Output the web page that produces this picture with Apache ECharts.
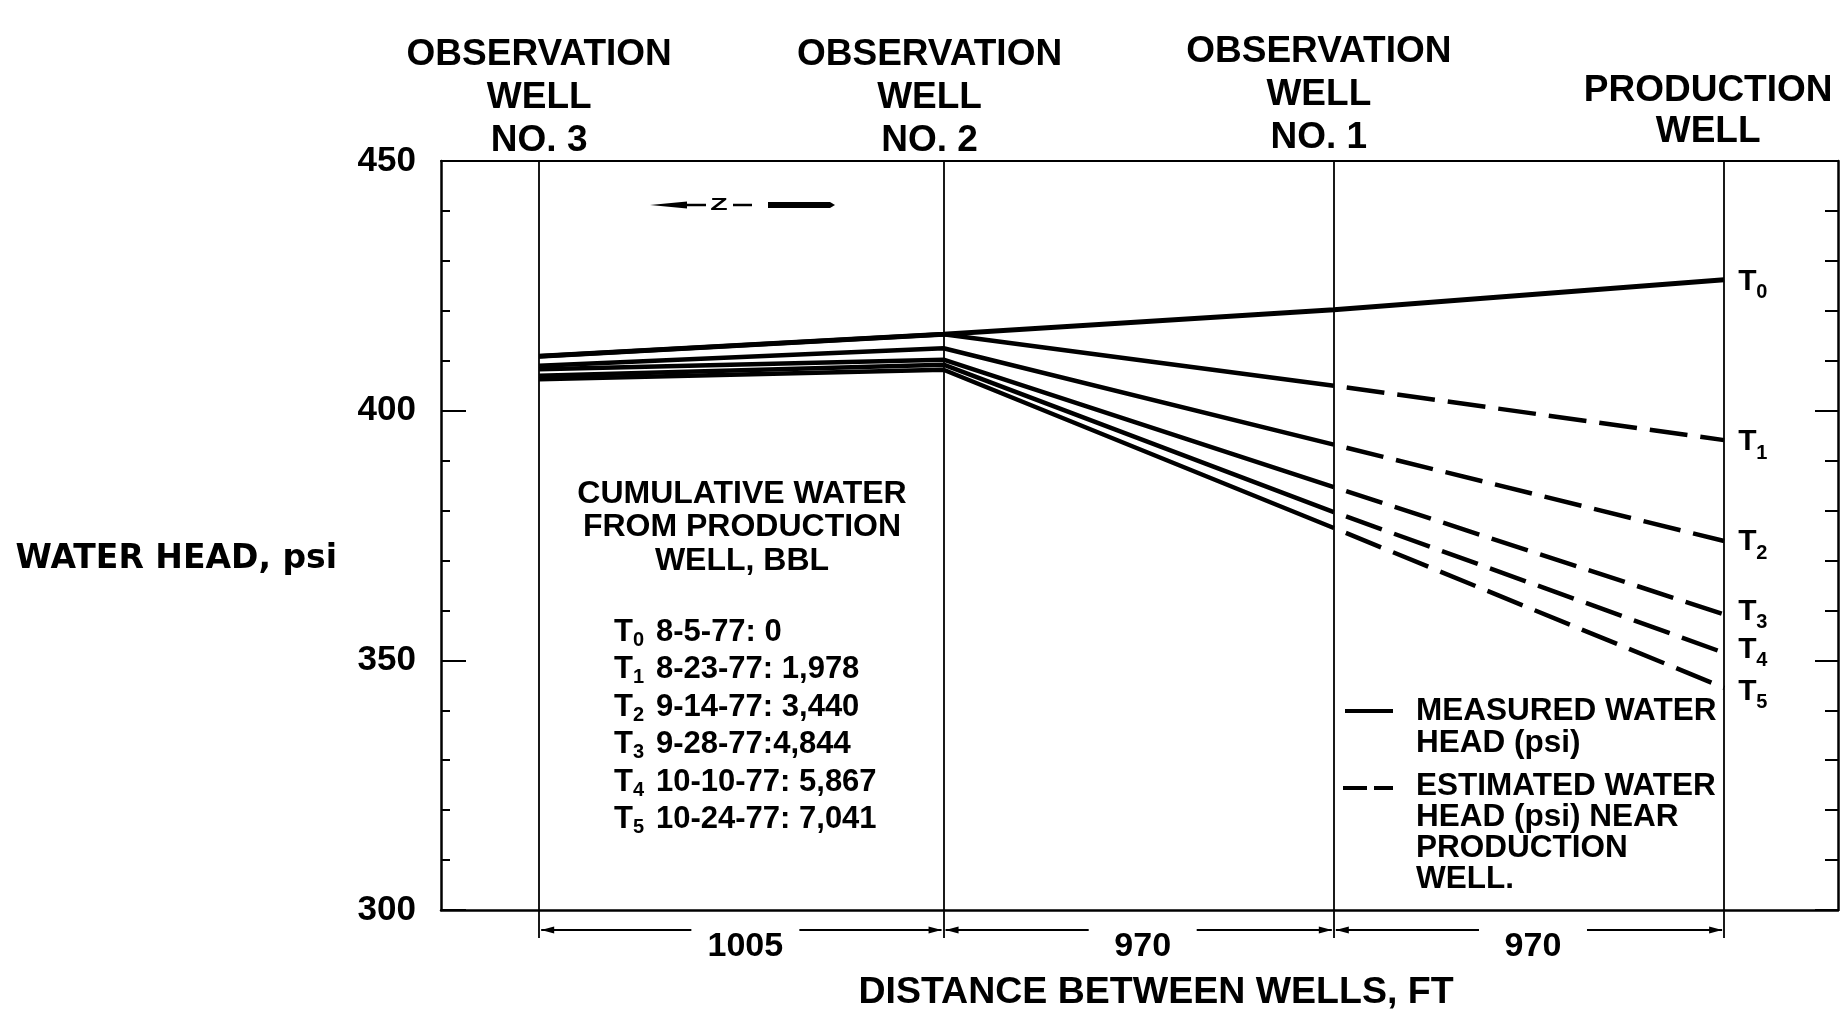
<!DOCTYPE html>
<html><head><meta charset="utf-8">
<script src="https://cdn.jsdelivr.net/npm/echarts@6/dist/echarts.min.js"></script>
<style>html,body{margin:0;padding:0;background:#fff}#c{width:1841px;height:1010px}</style>
</head><body><div id="c"></div>
<script>
// ---------- data ----------
const wellNames = [['OBSERVATION', 'WELL', 'NO. 3'], ['OBSERVATION', 'WELL', 'NO. 2'], ['OBSERVATION', 'WELL', 'NO. 1'], ['PRODUCTION', 'WELL']];
const wellPositions = [0, 1005, 1975, 2945];          // ft from observation well no. 3
const spacingLabels = ['1005', '970', '970'];
const timeSubscripts = ['0', '1', '2', '3', '4', '5'];
// measured water head (psi) at wells no.3, no.2, no.1 (T0 also at production well)
const measuredT0 = [410.9, 415.3, 420.2, 426.2];
const measuredT1 = [410.9, 415.3, 405.0];
const measuredT2 = [409.0, 412.5, 393.2];
const measuredT3 = [408.3, 410.2, 384.7];
const measuredT4 = [407.0, 409.2, 379.7];
const measuredT5 = [406.3, 408.2, 376.5];
// estimated water head (psi) from well no.1 to production well
const estimatedT1 = [405.0, 394.1];
const estimatedT2 = [393.2, 373.9];
const estimatedT3 = [384.7, 359.2];
const estimatedT4 = [379.7, 351.5];
const estimatedT5 = [376.5, 344.5];
const yTickValues = [300, 350, 400, 450];
const cumulativeTitle = ['CUMULATIVE WATER', 'FROM PRODUCTION', 'WELL, BBL'];
const cumulativeRows = ['8-5-77: 0', '8-23-77: 1,978', '9-14-77: 3,440', '9-28-77:4,844', '10-10-77: 5,867', '10-24-77: 7,041'];
const legendMeasured = ['MEASURED WATER', 'HEAD (psi)'];
const legendEstimated = ['ESTIMATED WATER', 'HEAD (psi) NEAR', 'PRODUCTION', 'WELL.'];

// ---------- chart ----------
const LIB = "'Liberation Sans', Arial, Helvetica, sans-serif";
const DJV = "'DejaVu Sans', 'Liberation Sans', sans-serif";
const chart = echarts.init(document.getElementById('c'), null, {renderer: 'canvas'});

const measured = [measuredT0, measuredT1, measuredT2, measuredT3, measuredT4, measuredT5];
const estimated = [null, estimatedT1, estimatedT2, estimatedT3, estimatedT4, estimatedT5];
const pts = (xs, ys) => ys.map((v, i) => [xs[i], v]);

const series = [];
measured.forEach((m, k) => {
  series.push({
    type: 'line', xAxisIndex: 0, yAxisIndex: 0, symbol: 'none', silent: true,
    data: pts(wellPositions, m),
    lineStyle: {color: '#000', width: k === 0 ? 5 : 4.5},
    markLine: k === 0 ? {
      symbol: 'none', silent: true, label: {show: false},
      lineStyle: {color: '#000', width: 1.8, type: 'solid'},
      data: wellPositions.map(x => ({xAxis: x}))
    } : undefined
  });
});
estimated.forEach(e => {
  if (!e) return;
  series.push({
    type: 'line', xAxisIndex: 0, yAxisIndex: 0, symbol: 'none', silent: true,
    data: pts(wellPositions.slice(2), e),
    lineStyle: {color: '#000', width: 4.5, type: [38, 13], dashOffset: 38}
  });
});

const xMin = -244, xMax = 3228;
chart.setOption({
  animation: false,
  backgroundColor: '#fff',
  grid: {left: 441, right: 3, top: 161, bottom: 100, containLabel: false, outerBoundsMode: 'none'},
  xAxis: [{
    type: 'value', min: xMin, max: xMax, position: 'bottom',
    axisLine: {show: true, onZero: false, lineStyle: {color: '#000', width: 2.5}},
    axisTick: {show: true, inside: false, length: 28, customValues: wellPositions, lineStyle: {color: '#000', width: 1.8}},
    axisLabel: {show: false},
    splitLine: {show: false},
    name: 'DISTANCE BETWEEN WELLS, FT', nameLocation: 'middle', nameGap: 64,
    nameTextStyle: {fontFamily: LIB, fontWeight: 'bold', fontSize: 37.5, color: '#000', padding: [0, 0, 0, 33]}
  }, {
    type: 'value', min: xMin, max: xMax, position: 'top',
    axisLine: {show: true, onZero: false, lineStyle: {color: '#000', width: 2}},
    axisTick: {show: false}, axisLabel: {show: false}, splitLine: {show: false}
  }],
  yAxis: [{
    type: 'value', min: 300, max: 450, interval: 50, position: 'left',
    axisLine: {show: true, onZero: false, lineStyle: {color: '#000', width: 2.5}},
    axisTick: {show: true, inside: true, length: 25, lineStyle: {color: '#000', width: 2}},
    minorTick: {show: true, splitNumber: 5, length: 9, lineStyle: {color: '#000', width: 2}},
    axisLabel: {show: true, margin: 25, fontFamily: LIB, fontWeight: 'bold', fontSize: 35, color: '#000',
      customValues: yTickValues},
    splitLine: {show: false}, minorSplitLine: {show: false}
  }, {
    type: 'value', min: 300, max: 450, interval: 50, position: 'right',
    axisLine: {show: true, onZero: false, lineStyle: {color: '#000', width: 2.5}},
    axisTick: {show: true, inside: true, length: 23, lineStyle: {color: '#000', width: 2}},
    minorTick: {show: true, splitNumber: 5, length: 13, lineStyle: {color: '#000', width: 2}},
    axisLabel: {show: false}, splitLine: {show: false}, minorSplitLine: {show: false}
  }],
  series: series
});

// ---------- annotations placed through the axis scales ----------
const px = x => chart.convertToPixel({xAxisIndex: 0}, x);
const py = y => chart.convertToPixel({yAxisIndex: 0}, y);
const g = [];
const txt = (x, y, s, font, size, align, extra) => g.push(Object.assign({
  type: 'text', x: x, y: y, silent: true,
  style: {text: s, fontFamily: font, fontWeight: 'bold', fontSize: size, fill: '#000',
    align: align || 'center', verticalAlign: 'middle'}
}, extra || {}));
const line = (x1, y1, x2, y2, w) => g.push({type: 'line', silent: true,
  shape: {x1: x1, y1: y1, x2: x2, y2: y2}, style: {stroke: '#000', lineWidth: w || 2}});
const tri = (pts) => g.push({type: 'polygon', silent: true, shape: {points: pts}, style: {fill: '#000'}});

// well titles above the plot
const titleShift = [0, -14, -15, -16];
const titleLineY = [[55, 98, 141], [55, 98, 141], [52, 95, 138], [91, 132]];
wellNames.forEach((lines, i) => {
  lines.forEach((s, j) => txt(px(wellPositions[i]) + titleShift[i], titleLineY[i][j], s, LIB, 37));
});

// y-axis title
txt(337, 559, 'WATER HEAD, psi', DJV, 33, 'right');

// dimension lines between wells
const dimY = 930;
spacingLabels.forEach((s, i) => {
  const xl = px(wellPositions[i]) + 2, xr = px(wellPositions[i + 1]) - 2, c = (xl + xr) / 2;
  line(xl, dimY, c - 50, dimY, 2);
  line(c + 58, dimY, xr, dimY, 2);
  tri([[xl, dimY], [xl + 13, dimY - 3.5], [xl + 13, dimY + 3.5]]);
  tri([[xr, dimY], [xr - 13, dimY - 3.5], [xr - 13, dimY + 3.5]]);
  txt(c + 4, 947, s, LIB, 34);
});

// north arrow
tri([[650, 205], [687, 201.5], [687, 208.5]]);
line(686, 205, 706, 205, 2.5);
txt(719, 205, 'Z', LIB, 19, 'center', {scaleX: 1.5, scaleY: 0.9});
line(733, 205, 752, 205, 2.5);
tri([[768, 202], [830, 202], [835, 205], [830, 208], [768, 208]]);

// cumulative water note
cumulativeTitle.forEach((s, j) => txt(742, 494 + j * 33.5, s, LIB, 32));
cumulativeRows.forEach((s, j) => {
  const y = 632 + j * 37.5;
  txt(614, y, 'T', LIB, 31, 'left');
  txt(633, y + 8, timeSubscripts[j], LIB, 20, 'left');
  txt(656, y, s, LIB, 31, 'left');
});

// series labels at production well
const endVals = [measuredT0[3], estimatedT1[1], estimatedT2[1], estimatedT3[1], estimatedT4[1], estimatedT5[1]];
const endLabelShift = [2, 2, 1, -3, -3, 4];
endVals.forEach((v, k) => {
  const x = px(wellPositions[3]) + 14, y = py(v) + endLabelShift[k];
  txt(x, y, 'T', LIB, 30, 'left');
  txt(x + 18, y + 11, timeSubscripts[k], LIB, 20, 'left');
});

// legend
line(1345, 711, 1393, 711, 4);
line(1343, 788, 1367, 788, 4);
line(1374, 788, 1393, 788, 4);
legendMeasured.forEach((s, j) => txt(1416, 711 + j * 32, s, LIB, 31.5, 'left'));
legendEstimated.forEach((s, j) => txt(1416, 786 + j * 31, s, LIB, 31.5, 'left'));

chart.setOption({graphic: g});
</script></body></html>
